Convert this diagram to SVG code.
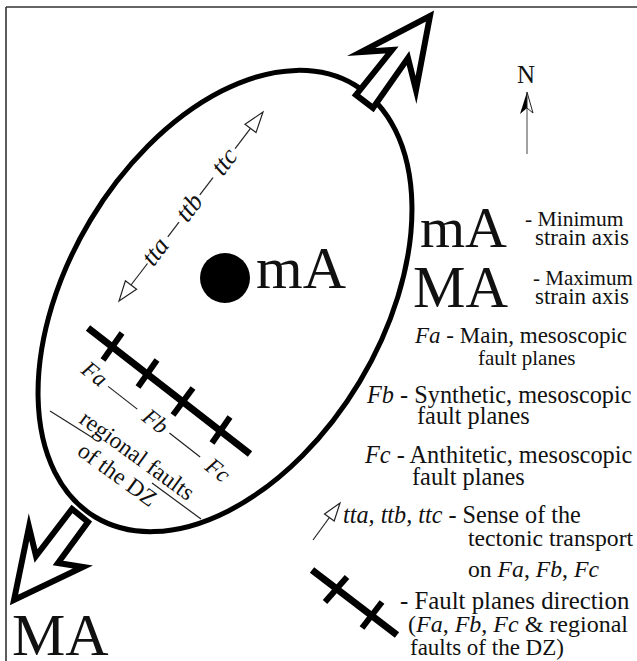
<svg xmlns="http://www.w3.org/2000/svg" width="637" height="661" viewBox="0 0 637 661">
<style>
  text { font-family: "Liberation Serif", "Times New Roman", serif; fill: #111; }
  .it { font-style: italic; }
  .big { font-size: 60px; }
  .thin { stroke: #222; stroke-width: 1.2; fill: none; }
  .head { stroke: #222; stroke-width: 1.2; fill: #fff; stroke-linejoin: miter; }
  .blk { stroke: #000; stroke-width: 7; fill: none; stroke-linecap: butt; }
  .tick { stroke: #000; stroke-width: 6; fill: none; }
  .bigarrow { fill: #fff; stroke: #000; stroke-width: 6; stroke-linejoin: miter; stroke-miterlimit: 10; }
</style>
<rect width="637" height="661" fill="#fff"/>
<g id="frame">
  <line x1="6" y1="7" x2="637" y2="7" stroke="#333" stroke-width="1.6"/>
  <line x1="6" y1="7" x2="6" y2="661" stroke="#333" stroke-width="1.6"/>
</g>
<g id="strain-ellipse">
  <ellipse cx="225" cy="301" rx="252" ry="157" transform="rotate(-59 225 301)" fill="none" stroke="#000" stroke-width="5"/>
</g>
<g id="MA-arrow-top">
  <polygon class="bigarrow" points="430,16 416,90 408,58 373,108 356,95 392,50 361,52"/>
</g>
<g id="MA-arrow-bottom">
  <polygon class="bigarrow" points="14,600 29,527 36,556 72,509 88,522 58,563 83,567"/>
</g>
<g id="MA-label"><text x="12" y="655" class="big">MA</text></g>
<g id="mA-center">
  <circle cx="225" cy="278" r="25" fill="#000"/>
  <text x="256" y="288" class="big">mA</text>
</g>
<g id="north">
  <text x="517" y="83" font-size="25">N</text>
  <line x1="527" y1="108" x2="527" y2="154" stroke="#444" stroke-width="1"/>
  <polygon points="527,92 520,114 527,108" fill="#000"/>
  <polygon points="527,92 533,113 527,108" fill="#fff" stroke="#222" stroke-width="1"/>
</g>
<g id="connectors">
  <line class="thin" x1="131" y1="285" x2="147.5" y2="263.5"/>
  <line class="thin" x1="167.8" y1="236.9" x2="179" y2="222.2"/>
  <line class="thin" x1="199.8" y1="194.9" x2="213" y2="177.6"/>
  <line class="thin" x1="235.1" y1="148.6" x2="250.5" y2="128.4"/>
  <polygon class="head" points="263,112 256,132.6 245,124.2"/>
  <polygon class="head" points="119,301 136.6,289.2 125.4,280.8"/>
</g>
<g id="transport-labels">
  <text class="it" font-size="26" transform="translate(157,253) rotate(-52.7)" text-anchor="middle" dy="6">tta</text>
  <text class="it" font-size="26" transform="translate(191,209) rotate(-52.7)" text-anchor="middle" dy="6">ttb</text>
  <text class="it" font-size="26" transform="translate(226,163) rotate(-52.7)" text-anchor="middle" dy="6">ttc</text>
</g>
<g id="fault-zone">
  <line class="blk" x1="88" y1="328" x2="250" y2="454"/>
  <line class="tick" x1="103" y1="360" x2="122" y2="333"/>
  <line class="tick" x1="138" y1="387" x2="157" y2="360"/>
  <line class="tick" x1="173" y1="415" x2="193" y2="388"/>
  <line class="tick" x1="212" y1="443" x2="230" y2="417"/>
  <g transform="translate(80,372) rotate(38)">
    <text class="it" font-size="23" x="0" y="0">Fa</text>
    <line class="thin" x1="31" y1="-6" x2="68" y2="-6"/>
    <text class="it" font-size="23" x="77" y="0">Fb</text>
    <line class="thin" x1="108" y1="-7" x2="147" y2="-7"/>
    <text class="it" font-size="23" x="157" y="0">Fc</text>
  </g>
  <text font-size="23.5" transform="translate(78,422) rotate(36)">regional faults</text>
  <text font-size="23.5" transform="translate(76,454) rotate(36)">of the DZ</text>
  <line class="thin" x1="50" y1="411" x2="93" y2="438"/>
  <line class="thin" x1="152" y1="483" x2="201" y2="519"/>
</g>
<g id="legend-mA">
  <text x="420" y="247" font-size="58">mA</text>
  <text x="525" y="226" font-size="21.5">- Minimum</text>
  <text x="535" y="245" font-size="23">strain axis</text>
</g>
<g id="legend-MA">
  <text x="413" y="307" font-size="59">MA</text>
  <text x="533" y="285" font-size="21">- Maximum</text>
  <text x="535" y="304" font-size="23">strain axis</text>
</g>
<g id="legend-Fa">
  <text x="415" y="343" font-size="23"><tspan class="it">Fa</tspan> - Main, mesoscopic</text>
  <text x="478" y="365" font-size="21">fault planes</text>
</g>
<g id="legend-Fb">
  <text x="367" y="403" font-size="24.3"><tspan class="it">Fb</tspan> - Synthetic, mesoscopic</text>
  <text x="417" y="424" font-size="24.3">fault planes</text>
</g>
<g id="legend-Fc">
  <text x="365" y="463" font-size="24.3"><tspan class="it">Fc</tspan> - Anthitetic, mesoscopic</text>
  <text x="412" y="485" font-size="24.3">fault planes</text>
</g>
<g id="legend-transport">
  <line class="thin" x1="313" y1="540" x2="329.4" y2="517.5"/>
  <polygon class="head" points="340,503 334.2,521 324.5,514"/>
  <text x="343" y="523" font-size="24.2"><tspan class="it">tta, ttb, ttc</tspan> - Sense of the</text>
  <text x="468" y="546" font-size="23.7">tectonic transport</text>
  <text x="468" y="577" font-size="23.7">on <tspan class="it">Fa</tspan>, <tspan class="it">Fb</tspan>, <tspan class="it">Fc</tspan></text>
</g>
<g id="legend-faults">
  <line class="blk" x1="312" y1="570" x2="397" y2="635"/>
  <line class="tick" x1="325" y1="602" x2="347" y2="577"/>
  <line class="tick" x1="362" y1="628" x2="382" y2="602"/>
  <text x="400" y="609" font-size="24.8">- Fault planes direction</text>
  <text x="408" y="632" font-size="24">(<tspan class="it">Fa</tspan>, <tspan class="it">Fb</tspan>, <tspan class="it">Fc</tspan> &amp; regional</text>
  <text x="410" y="655" font-size="23">faults of the DZ)</text>
</g>
</svg>
